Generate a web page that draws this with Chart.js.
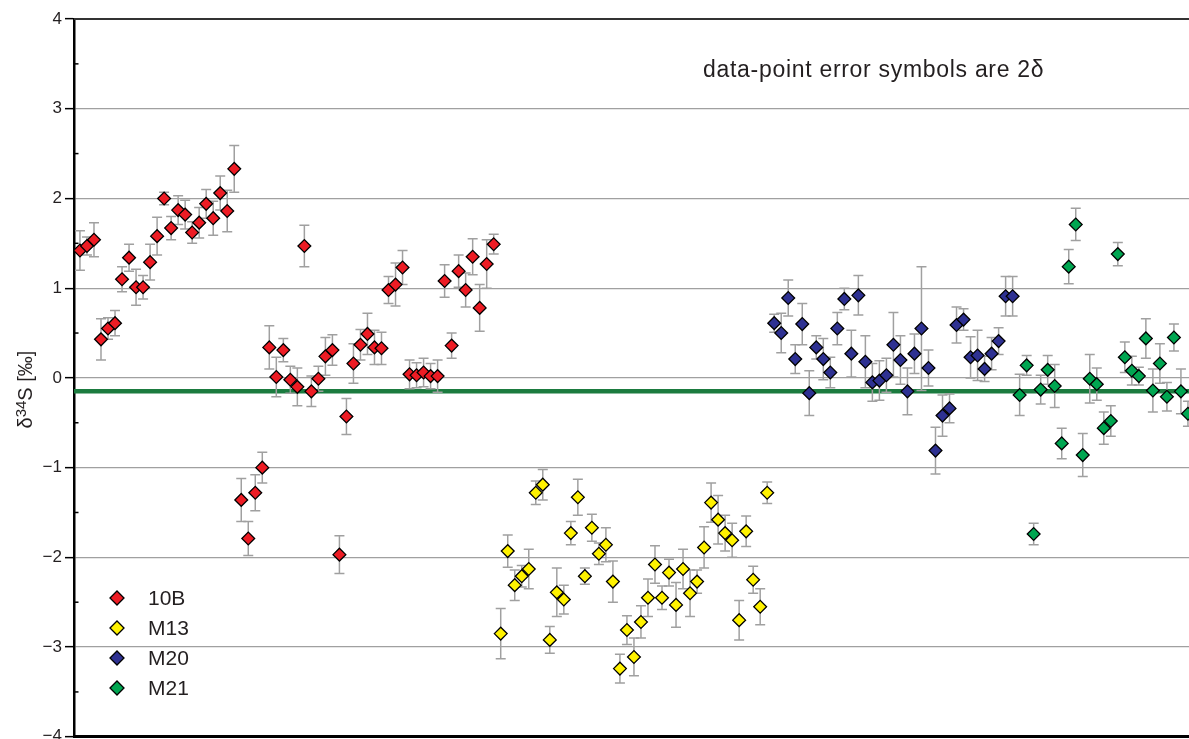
<!DOCTYPE html>
<html>
<head>
<meta charset="utf-8">
<script src="https://cdn.jsdelivr.net/npm/chart.js@4.4.1/dist/chart.umd.min.js"></script>
<style>
  html, body { margin: 0; padding: 0; background: #fff; overflow: hidden; }
  #wrap { width: 1189px; height: 750px; position: relative; }
</style>
</head>
<body>
<div id="wrap"><canvas id="chart"></canvas></div>
<script>
// d34S values (per mil) in sample order, and their 2-sigma errors
const values10B = [1.42, 1.47, 1.54, 0.43, 0.55, 0.61, 1.10, 1.34, 1.01, 1.01, 1.29, 1.58, 2.00, 1.67, 1.87,
  1.82, 1.62, 1.73, 1.94, 1.78, 2.06, 1.86, 2.33, -1.36, -1.79, -1.28, -1.00, 0.34, 0.01, 0.31, -0.02, -0.10,
  1.47, -0.15, -0.01, 0.24, 0.31, -1.97, -0.43, 0.16, 0.37, 0.49, 0.34, 0.33, 0.98, 1.04, 1.23, 0.04, 0.03,
  0.06, 0.02, 0.02, 1.08, 0.36, 1.19, 0.98, 1.35, 0.78, 1.27, 1.49]
const errors10B = [0.22, 0.10, 0.19, 0.23, 0.12, 0.14, 0.14, 0.15, 0.20, 0.13, 0.20, 0.21, 0.07, 0.13, 0.16,
  0.16, 0.12, 0.17, 0.16, 0.19, 0.19, 0.23, 0.26, 0.24, 0.19, 0.20, 0.17, 0.24, 0.22, 0.13, 0.15, 0.21,
  0.23, 0.17, 0.14, 0.21, 0.17, 0.21, 0.20, 0.22, 0.17, 0.23, 0.19, 0.18, 0.15, 0.24, 0.19, 0.16, 0.14,
  0.16, 0.14, 0.18, 0.18, 0.14, 0.18, 0.19, 0.20, 0.26, 0.27, 0.11]

const valuesM13 = [-2.85, -1.93, -2.31, -2.21, -2.13, -1.28, -1.19, -2.92, -2.39, -2.47, -1.73, -1.33, -2.21,
  -1.67, -1.96, -1.86, -2.27, -3.24, -2.81, -3.11, -2.72, -2.45, -2.08, -2.45, -2.17, -2.53, -2.13, -2.40,
  -2.27, -1.89, -1.39, -1.58, -1.73, -1.81, -2.70, -1.71, -2.25, -2.55, -1.28]
const errorsM13 = [0.28, 0.18, 0.17, 0.12, 0.22, 0.13, 0.17, 0.15, 0.27, 0.16, 0.13, 0.20, 0.09,
  0.15, 0.12, 0.19, 0.23, 0.16, 0.16, 0.21, 0.18, 0.21, 0.21, 0.13, 0.15, 0.25, 0.22, 0.26,
  0.13, 0.23, 0.22, 0.27, 0.20, 0.19, 0.22, 0.17, 0.15, 0.20, 0.12]

const valuesM20 = [0.61, 0.50, 0.89, 0.21, 0.60, -0.17, 0.34, 0.21, 0.06, 0.55, 0.88, 0.27, 0.92, 0.18,
  -0.05, -0.03, 0.03, 0.37, 0.20, -0.15, 0.27, 0.55, 0.11, -0.81, -0.42, -0.34, 0.59, 0.65, 0.23, 0.25,
  0.10, 0.27, 0.41, 0.91, 0.91]
const errorsM20 = [0.10, 0.22, 0.20, 0.16, 0.23, 0.25, 0.13, 0.23, 0.17, 0.18, 0.12, 0.26, 0.22, 0.29,
  0.21, 0.22, 0.19, 0.36, 0.27, 0.26, 0.22, 0.69, 0.20, 0.26, 0.23, 0.16, 0.20, 0.12, 0.23, 0.28,
  0.14, 0.18, 0.15, 0.22, 0.22]

const valuesM21 = [-0.19, 0.14, -1.74, -0.13, 0.09, -0.09, -0.73, 1.24, 1.71, -0.86, -0.01, -0.07, -0.56,
  -0.48, 1.38, 0.23, 0.08, 0.02, 0.44, -0.14, 0.16, -0.21, 0.45, -0.15, -0.40]
const errorsM21 = [0.23, 0.11, 0.12, 0.16, 0.16, 0.24, 0.17, 0.19, 0.18, 0.24, 0.27, 0.18, 0.18,
  0.17, 0.13, 0.17, 0.16, 0.10, 0.22, 0.24, 0.22, 0.16, 0.15, 0.25, 0.14]

const seriesNames = ["10B", "M13", "M20", "M21"]
const seriesValues = [values10B, valuesM13, valuesM20, valuesM21]
const seriesErrors = [errors10B, errorsM13, errorsM20, errorsM21]
const seriesColors = ["#ed1c24", "#fff200", "#2e3192", "#00a651"]

const referenceValue = -0.15
const yTicks = [-4, -3, -2, -1, 0, 1, 2, 3, 4]
const yMinorTicks = [-3.5, -2.5, -1.5, -0.5, 0.5, 1.5, 2.5, 3.5]

const textColor = "#231f20"
const fontFamily = "'Liberation Sans', Arial, Helvetica, sans-serif"

// samples are numbered one after another across the four series
let sampleNo = 0
const datasets = seriesNames.map((name, s) => {
  const data = seriesValues[s].map((v, i) => ({ x: sampleNo + i, y: v, err: seriesErrors[s][i] }))
  sampleNo += seriesValues[s].length
  return {
    label: name,
    data: data,
    backgroundColor: seriesColors[s],
    borderColor: "#000",
    borderWidth: 1.3,
    pointStyle: "rectRot",
    pointRadius: 6.4,
    showLine: false
  }
})

function diamond(ctx, x, y, r, fill) {
  ctx.beginPath()
  ctx.moveTo(x - r, y)
  ctx.lineTo(x, y - r)
  ctx.lineTo(x + r, y)
  ctx.lineTo(x, y + r)
  ctx.closePath()
  ctx.fillStyle = fill
  ctx.fill()
  ctx.lineWidth = 1.3
  ctx.strokeStyle = "#000"
  ctx.stroke()
}

const referenceLine = {
  id: "referenceLine",
  beforeDatasetsDraw(chart) {
    const { ctx, chartArea, scales } = chart
    const y = scales.y.getPixelForValue(referenceValue)
    ctx.save()
    ctx.strokeStyle = "#1b7b3f"
    ctx.lineWidth = 4.5
    ctx.beginPath()
    ctx.moveTo(chartArea.left, y)
    ctx.lineTo(chartArea.right, y)
    ctx.stroke()
    ctx.restore()
  }
}

const errorBars = {
  id: "errorBars",
  beforeDatasetsDraw(chart) {
    const { ctx, chartArea, scales } = chart
    ctx.save()
    ctx.beginPath()
    ctx.rect(chartArea.left, chartArea.top, chartArea.right - chartArea.left, chartArea.bottom - chartArea.top)
    ctx.clip()
    ctx.strokeStyle = "#a0a0a0"
    ctx.lineWidth = 1.5
    chart.data.datasets.forEach((ds, di) => {
      const meta = chart.getDatasetMeta(di)
      meta.data.forEach((pt, i) => {
        const d = ds.data[i]
        const top = scales.y.getPixelForValue(d.y + d.err)
        const bot = scales.y.getPixelForValue(d.y - d.err)
        ctx.beginPath()
        ctx.moveTo(pt.x, top); ctx.lineTo(pt.x, bot)
        ctx.moveTo(pt.x - 5, top); ctx.lineTo(pt.x + 5, top)
        ctx.moveTo(pt.x - 5, bot); ctx.lineTo(pt.x + 5, bot)
        ctx.stroke()
      })
    })
    ctx.restore()
  }
}

const frameAndText = {
  id: "frameAndText",
  afterDraw(chart) {
    const { ctx, chartArea, scales } = chart
    ctx.save()
    // top frame line
    ctx.strokeStyle = "#333"
    ctx.lineWidth = 2
    ctx.beginPath()
    ctx.moveTo(chartArea.left, chartArea.top)
    ctx.lineTo(chartArea.right, chartArea.top)
    ctx.stroke()
    // minor ticks, inside
    ctx.strokeStyle = "#000"
    ctx.lineWidth = 1.5
    yMinorTicks.forEach(v => {
      const y = scales.y.getPixelForValue(v)
      ctx.beginPath()
      ctx.moveTo(chartArea.left, y)
      ctx.lineTo(chartArea.left + 4.5, y)
      ctx.stroke()
    })

    // y axis title: δ34S [‰]
    ctx.fillStyle = textColor
    const main = "20px " + fontFamily
    const sup = "15px " + fontFamily
    const parts = [["δ", main, 0], ["34", sup, -6], ["S [‰]", main, 0]]
    let total = 0
    parts.forEach(p => { ctx.font = p[1]; total += ctx.measureText(p[0]).width })
    const cy = (scales.y.getPixelForValue(-0.13))
    ctx.translate(25, cy)
    ctx.rotate(-Math.PI / 2)
    ctx.textBaseline = "alphabetic"
    ctx.textAlign = "left"
    let x = -total / 2
    parts.forEach(p => {
      ctx.font = p[1]
      ctx.fillText(p[0], x, 7 + p[2])
      x += ctx.measureText(p[0]).width
    })
    ctx.setTransform(1, 0, 0, 1, 0, 0)

    // note
    ctx.font = "23px " + fontFamily
    if ("letterSpacing" in ctx) ctx.letterSpacing = "0.7px"
    ctx.textBaseline = "alphabetic"
    ctx.fillText("data-point error symbols are 2δ", 703, 77)
    if ("letterSpacing" in ctx) ctx.letterSpacing = "0px"

    // legend
    ctx.font = "21px " + fontFamily
    ctx.textBaseline = "middle"
    seriesNames.forEach((name, s) => {
      const y = 598 + s * 30
      diamond(ctx, 117, y, 7, seriesColors[s])
      ctx.fillStyle = textColor
      ctx.fillText(name, 148, y + 1)
    })
    ctx.restore()
  }
}

new Chart(document.getElementById("chart"), {
  type: "scatter",
  data: { datasets: datasets },
  options: {
    responsive: true,
    maintainAspectRatio: false,
    animation: false,
    layout: { autoPadding: false, padding: { top: 19, right: 0, bottom: 10, left: 0 } },
    plugins: {
      legend: { display: false },
      tooltip: { enabled: false }
    },
    scales: {
      x: {
        type: "linear",
        min: -0.85,
        max: 158.15,
        ticks: { display: false },
        grid: { display: false, drawTicks: false },
        border: { display: true, color: "#000", width: 3 }
      },
      y: {
        type: "linear",
        min: -4,
        max: 4,
        afterBuildTicks(scale) { scale.ticks = yTicks.map(v => ({ value: v })) },
        afterFit(scale) { scale.width = 74 },
        ticks: {
          padding: 3,
          color: textColor,
          font: { family: fontFamily, size: 17 },
          callback: v => String(v).replace("-", "\u2212")
        },
        grid: { color: "#a0a0a0", lineWidth: 1.3, tickLength: 9, tickColor: "#000", tickWidth: 1.5 },
        border: { display: true, color: "#000", width: 2.5 }
      }
    }
  },
  plugins: [referenceLine, errorBars, frameAndText]
})
</script>
</body>
</html>
